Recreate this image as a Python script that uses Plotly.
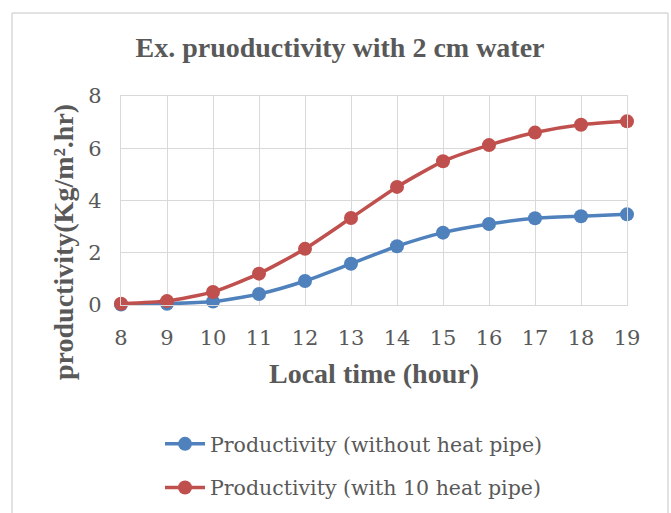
import plotly.graph_objects as go

hours = [8, 9, 10, 11, 12, 13, 14, 15, 16, 17, 18, 19]
without_hp = [0.02, 0.05, 0.13, 0.42, 0.92, 1.58, 2.25, 2.77, 3.10, 3.32, 3.40, 3.47]
with_10hp = [0.05, 0.15, 0.50, 1.20, 2.15, 3.33, 4.52, 5.50, 6.12, 6.60, 6.90, 7.03]
y_ticks = [0, 2, 4, 6, 8]

W, H = 671, 513
L, R, T, B = 121, 627, 96, 305
pw, ph = R - L, B - T

def px(x):
    return (x - L) / pw

def py(y):
    return (B - y) / ph

fig = go.Figure()
fig.add_trace(go.Scatter(
    x=hours, y=without_hp, mode="lines+markers",
    name="Productivity (without heat pipe)",
    line=dict(color="#4F81BD", width=3.5, shape="spline", smoothing=0.6),
    marker=dict(color="#4F81BD", size=14),
    legendgroup="a", cliponaxis=False,
))
fig.add_trace(go.Scatter(
    x=hours, y=with_10hp, mode="lines+markers",
    name="Productivity (with 10 heat pipe)",
    line=dict(color="#C0504D", width=3.5, shape="spline", smoothing=0.6),
    marker=dict(color="#C0504D", size=14),
    legendgroup="b", cliponaxis=False,
))

tickfont = dict(family="DejaVu Serif, serif", size=21, color="#595959")
boldfont = dict(family="Liberation Serif, Times New Roman, serif", size=28, color="#595959")

fig.update_layout(
    width=W, height=H,
    margin=dict(l=L, r=W - R, t=T, b=H - B, autoexpand=False),
    paper_bgcolor="white", plot_bgcolor="white",
    title=dict(
        text="<b>Ex. pruoductivity with 2 cm water</b>",
        x=340 / W, xanchor="center",
        y=1 - 47 / H, yanchor="middle",
        font=boldfont,
    ),
    xaxis=dict(
        range=[8, 19], tickmode="array", tickvals=hours,
        ticktext=[str(h) for h in hours],
        showgrid=True, gridcolor="#D9D9D9", gridwidth=1.3,
        showline=True, linecolor="#D9D9D9", linewidth=1.3, mirror=True,
        zeroline=False, ticks="", tickfont=tickfont, ticklabelstandoff=14,
        title=dict(text="<b>Local time (hour)</b>", standoff=14, font=boldfont),
    ),
    yaxis=dict(
        range=[0, 8], tickmode="array", tickvals=y_ticks,
        showgrid=True, gridcolor="#D9D9D9", gridwidth=1.3,
        showline=True, linecolor="#D9D9D9", linewidth=1.3, mirror=True,
        zeroline=False, ticks="", tickfont=tickfont, ticklabelstandoff=14,
    ),
    showlegend=True,
    legend=dict(
        x=px(160), xanchor="left", y=py(424), yanchor="top",
        font=dict(family="DejaVu Serif, serif", size=20.5, color="#595959"),
        traceorder="grouped", tracegroupgap=14, bgcolor="rgba(0,0,0,0)",
        itemwidth=40,
    ),
    annotations=[dict(
        text="<b>productivity(Kg/m².hr)</b>",
        xref="paper", yref="paper", x=px(63), y=py(242),
        xanchor="center", yanchor="middle", textangle=-90, showarrow=False,
        font=boldfont,
    )],
    shapes=[
        dict(type="line", xref="paper", yref="paper", x0=px(12), x1=px(12), y0=py(13), y1=py(520),
             line=dict(color="#D9D9D9", width=1.5)),
        dict(type="line", xref="paper", yref="paper", x0=px(12), x1=px(668), y0=py(13), y1=py(13),
             line=dict(color="#D9D9D9", width=1.5)),
        dict(type="line", xref="paper", yref="paper", x0=px(668), x1=px(668), y0=py(13), y1=py(520),
             line=dict(color="#D9D9D9", width=1.5)),
    ],
)

fig.write_html("out.html")
